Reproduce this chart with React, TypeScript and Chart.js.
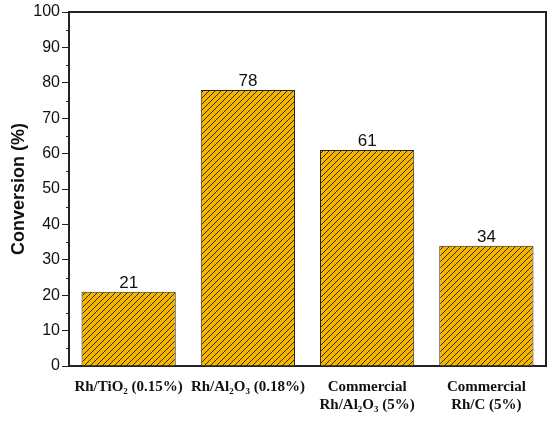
import { useEffect, useRef } from 'react'
import { Chart, registerables } from 'chart.js'

Chart.register(...registerables)

const catalysts = [
  'Rh/TiO₂ (0.15%)',
  'Rh/Al₂O₃ (0.18%)',
  ['Commercial', 'Rh/Al₂O₃ (5%)'],
  ['Commercial', 'Rh/C (5%)'],
]
const conversion = [21, 78, 61, 34]
const minorTicks = [5, 15, 25, 35, 45, 55, 65, 75, 85, 95]

function makeHatch(): CanvasPattern | string {
  const c = document.createElement('canvas')
  c.width = 6
  c.height = 6
  const g = c.getContext('2d')
  if (!g) return '#f6b600'
  g.fillStyle = '#f6b600'
  g.fillRect(0, 0, 6, 6)
  g.strokeStyle = '#3a2c08'
  g.lineWidth = 1
  g.beginPath()
  g.moveTo(-1, 7)
  g.lineTo(7, -1)
  g.moveTo(-1, 1)
  g.lineTo(1, -1)
  g.moveTo(5, 7)
  g.lineTo(7, 5)
  g.stroke()
  return g.createPattern(c, 'repeat') || '#f6b600'
}

// value labels over the bars + minor ticks on the y axis
const extras = {
  id: 'extras',
  afterDraw(chart: Chart) {
    const ctx = chart.ctx
    const y = chart.scales.y
    ctx.save()
    ctx.strokeStyle = '#222'
    ctx.lineWidth = 1
    minorTicks.forEach(v => {
      const py = Math.round(y.getPixelForValue(v)) + 0.5
      ctx.beginPath()
      ctx.moveTo(y.right - 3, py)
      ctx.lineTo(y.right, py)
      ctx.stroke()
    })
    const meta = chart.getDatasetMeta(0)
    ctx.fillStyle = '#111'
    ctx.font = '17px "Liberation Sans", Arial, sans-serif'
    ctx.textAlign = 'center'
    ctx.textBaseline = 'bottom'
    meta.data.forEach((bar: any, i: number) => {
      ctx.fillText(String(conversion[i]), bar.x, bar.y)
    })
    ctx.restore()
  },
}

export default function App() {
  const chartRef = useRef<HTMLCanvasElement>(null)
  const chartInstance = useRef<Chart | null>(null)

  useEffect(() => {
    if (!chartRef.current) return
    if (chartInstance.current) chartInstance.current.destroy()
    const ctx = chartRef.current.getContext('2d')
    if (!ctx) return

    chartInstance.current = new Chart(ctx, {
      type: 'bar',
      data: {
        labels: catalysts,
        datasets: [
          {
            data: conversion,
            backgroundColor: makeHatch(),
            borderColor: '#222',
            borderWidth: 1,
            barPercentage: 0.79,
            categoryPercentage: 1,
          },
        ],
      },
      options: {
        responsive: true,
        maintainAspectRatio: false,
        animation: false,
        layout: { padding: { top: 12, right: 4, left: 0, bottom: 0 } },
        plugins: {
          legend: { display: false },
          tooltip: { enabled: false },
        },
        scales: {
          x: {
            offset: true,
            grid: { display: false, drawTicks: false },
            border: { display: true, color: '#222', width: 2 },
            ticks: {
              color: '#111',
              padding: 12,
              maxRotation: 0,
              autoSkip: false,
              font: { family: '"Liberation Serif", "Times New Roman", serif', size: 15, weight: 'bold', lineHeight: 1.2 },
            },
            afterFit: (s: any) => { s.height = 60 },
          },
          xTop: {
            position: 'top',
            grid: { display: false, drawTicks: false },
            border: { display: true, color: '#222', width: 2 },
            ticks: { display: false },
            afterFit: (s: any) => { s.height = 0 },
          },
          y: {
            min: 0,
            max: 100,
            ticks: {
              stepSize: 10,
              color: '#111',
              padding: 2,
              font: { family: '"Liberation Sans", Arial, sans-serif', size: 16 },
            },
            grid: { drawOnChartArea: false, tickLength: 7, tickColor: '#222', tickWidth: 1 },
            border: { display: true, color: '#222', width: 2 },
            title: {
              display: true,
              text: 'Conversion (%)',
              color: '#111',
              padding: { top: 8, bottom: 0 },
              font: { family: '"Liberation Sans", Arial, sans-serif', size: 18, weight: 'bold' },
            },
            afterFit: (s: any) => { s.width = 69 },
          },
          yRight: {
            position: 'right',
            min: 0,
            max: 100,
            grid: { display: false, drawTicks: false },
            border: { display: true, color: '#222', width: 2 },
            ticks: { display: false },
            afterFit: (s: any) => { s.width = 0 },
          },
        },
      },
      plugins: [extras],
    })

    return () => {
      if (chartInstance.current) {
        chartInstance.current.destroy()
        chartInstance.current = null
      }
    }
  }, [])

  return (
    <div style={{ position: 'fixed', left: 0, top: 0, width: 550, height: 426, background: '#fff' }}>
      <canvas ref={chartRef} />
    </div>
  )
}
